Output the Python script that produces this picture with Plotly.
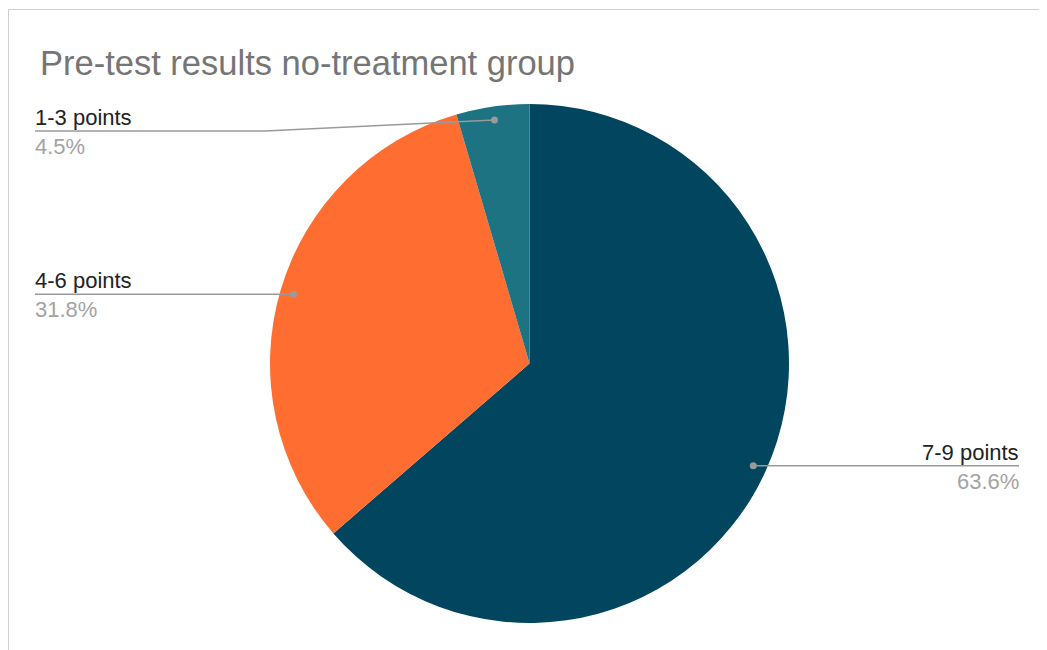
import math
import plotly.graph_objects as go

# ---- data ----
categories = ["7-9 points", "4-6 points", "1-3 points"]
counts = [14, 7, 1]
colors = ["#01455f", "#ff6d31", "#1e7383"]
title_text = "Pre-test results no-treatment group"

# ---- layout constants (screen pixels) ----
OFF = 8  # default page body margin
W, H = 1047 - OFF, 650 - OFF
CX, CY, R = 529.5, 363.5, 259.5
DOT_R = 0.948 * R
LEFT_X, RIGHT_X = 35, 1019
MIN_LINE_Y = 131
ELBOW_X = 265
FONT = "Liberation Sans, Arial, sans-serif"


def px(x):
    return (x - OFF) / W


def py(y):
    return 1 - (y - OFF) / H


fig = go.Figure(
    go.Pie(
        labels=categories,
        values=counts,
        sort=False,
        direction="clockwise",
        rotation=0,
        marker=dict(colors=colors, line=dict(width=0)),
        textinfo="none",
        hoverinfo="label+percent",
        showlegend=False,
        domain=dict(x=[px(CX - R), px(CX + R)], y=[py(CY + R), py(CY - R)]),
    )
)

shapes = []
annotations = []
total = sum(counts)
cum = 0
line_color = "#9a9a9a"
for cat, v in zip(categories, counts):
    frac = v / total
    mid = (cum + frac / 2) * 2 * math.pi
    cum += frac
    dx = CX + DOT_R * math.sin(mid)
    dy = CY - DOT_R * math.cos(mid)
    pct = f"{frac * 100:.1f}%"
    if math.sin(mid) < 0:
        ly = max(dy, MIN_LINE_Y)
        if abs(ly - dy) > 0.5:
            path = f"M {px(LEFT_X)} {py(ly)} L {px(ELBOW_X)} {py(ly)} L {px(dx)} {py(dy)}"
        else:
            path = f"M {px(LEFT_X)} {py(ly)} L {px(dx)} {py(dy)}"
        tx, anchor, xs = LEFT_X, "left", -2
    else:
        ly = dy
        path = f"M {px(dx)} {py(dy)} L {px(RIGHT_X)} {py(ly)}"
        tx, anchor, xs = RIGHT_X, "right", 2
    shapes.append(dict(type="path", xref="paper", yref="paper", path=path,
                       line=dict(color=line_color, width=1.5)))
    shapes.append(dict(type="circle", xref="paper", yref="paper",
                       x0=px(dx - 3.5), x1=px(dx + 3.5), y0=py(dy + 3.5), y1=py(dy - 3.5),
                       fillcolor=line_color, line=dict(width=0)))
    annotations.append(dict(x=px(tx), y=py(ly), xref="paper", yref="paper",
                            text=cat, showarrow=False, xanchor=anchor, yanchor="bottom",
                            xshift=xs, yshift=-1, font=dict(family=FONT, size=22, color="#222222")))
    annotations.append(dict(x=px(tx), y=py(ly), xref="paper", yref="paper",
                            text=pct, showarrow=False, xanchor=anchor, yanchor="top",
                            xshift=xs, yshift=-1, font=dict(family=FONT, size=22, color="#a3a3a3")))

# frame border
shapes.append(dict(type="rect", xref="paper", yref="paper",
                   x0=px(8.5), x1=px(1047 + 10), y0=py(650 + 10), y1=py(9.5),
                   line=dict(color="#d0d0d0", width=1), fillcolor="rgba(0,0,0,0)"))

fig.update_layout(
    width=W, height=H,
    margin=dict(l=0, r=0, t=0, b=0),
    paper_bgcolor="white",
    title=dict(text=title_text, x=px(40), xanchor="left", y=py(63), yanchor="middle",
               font=dict(family=FONT, size=34.5, color="#757575")),
    shapes=shapes,
    annotations=annotations,
)

fig.write_html("out.html")
